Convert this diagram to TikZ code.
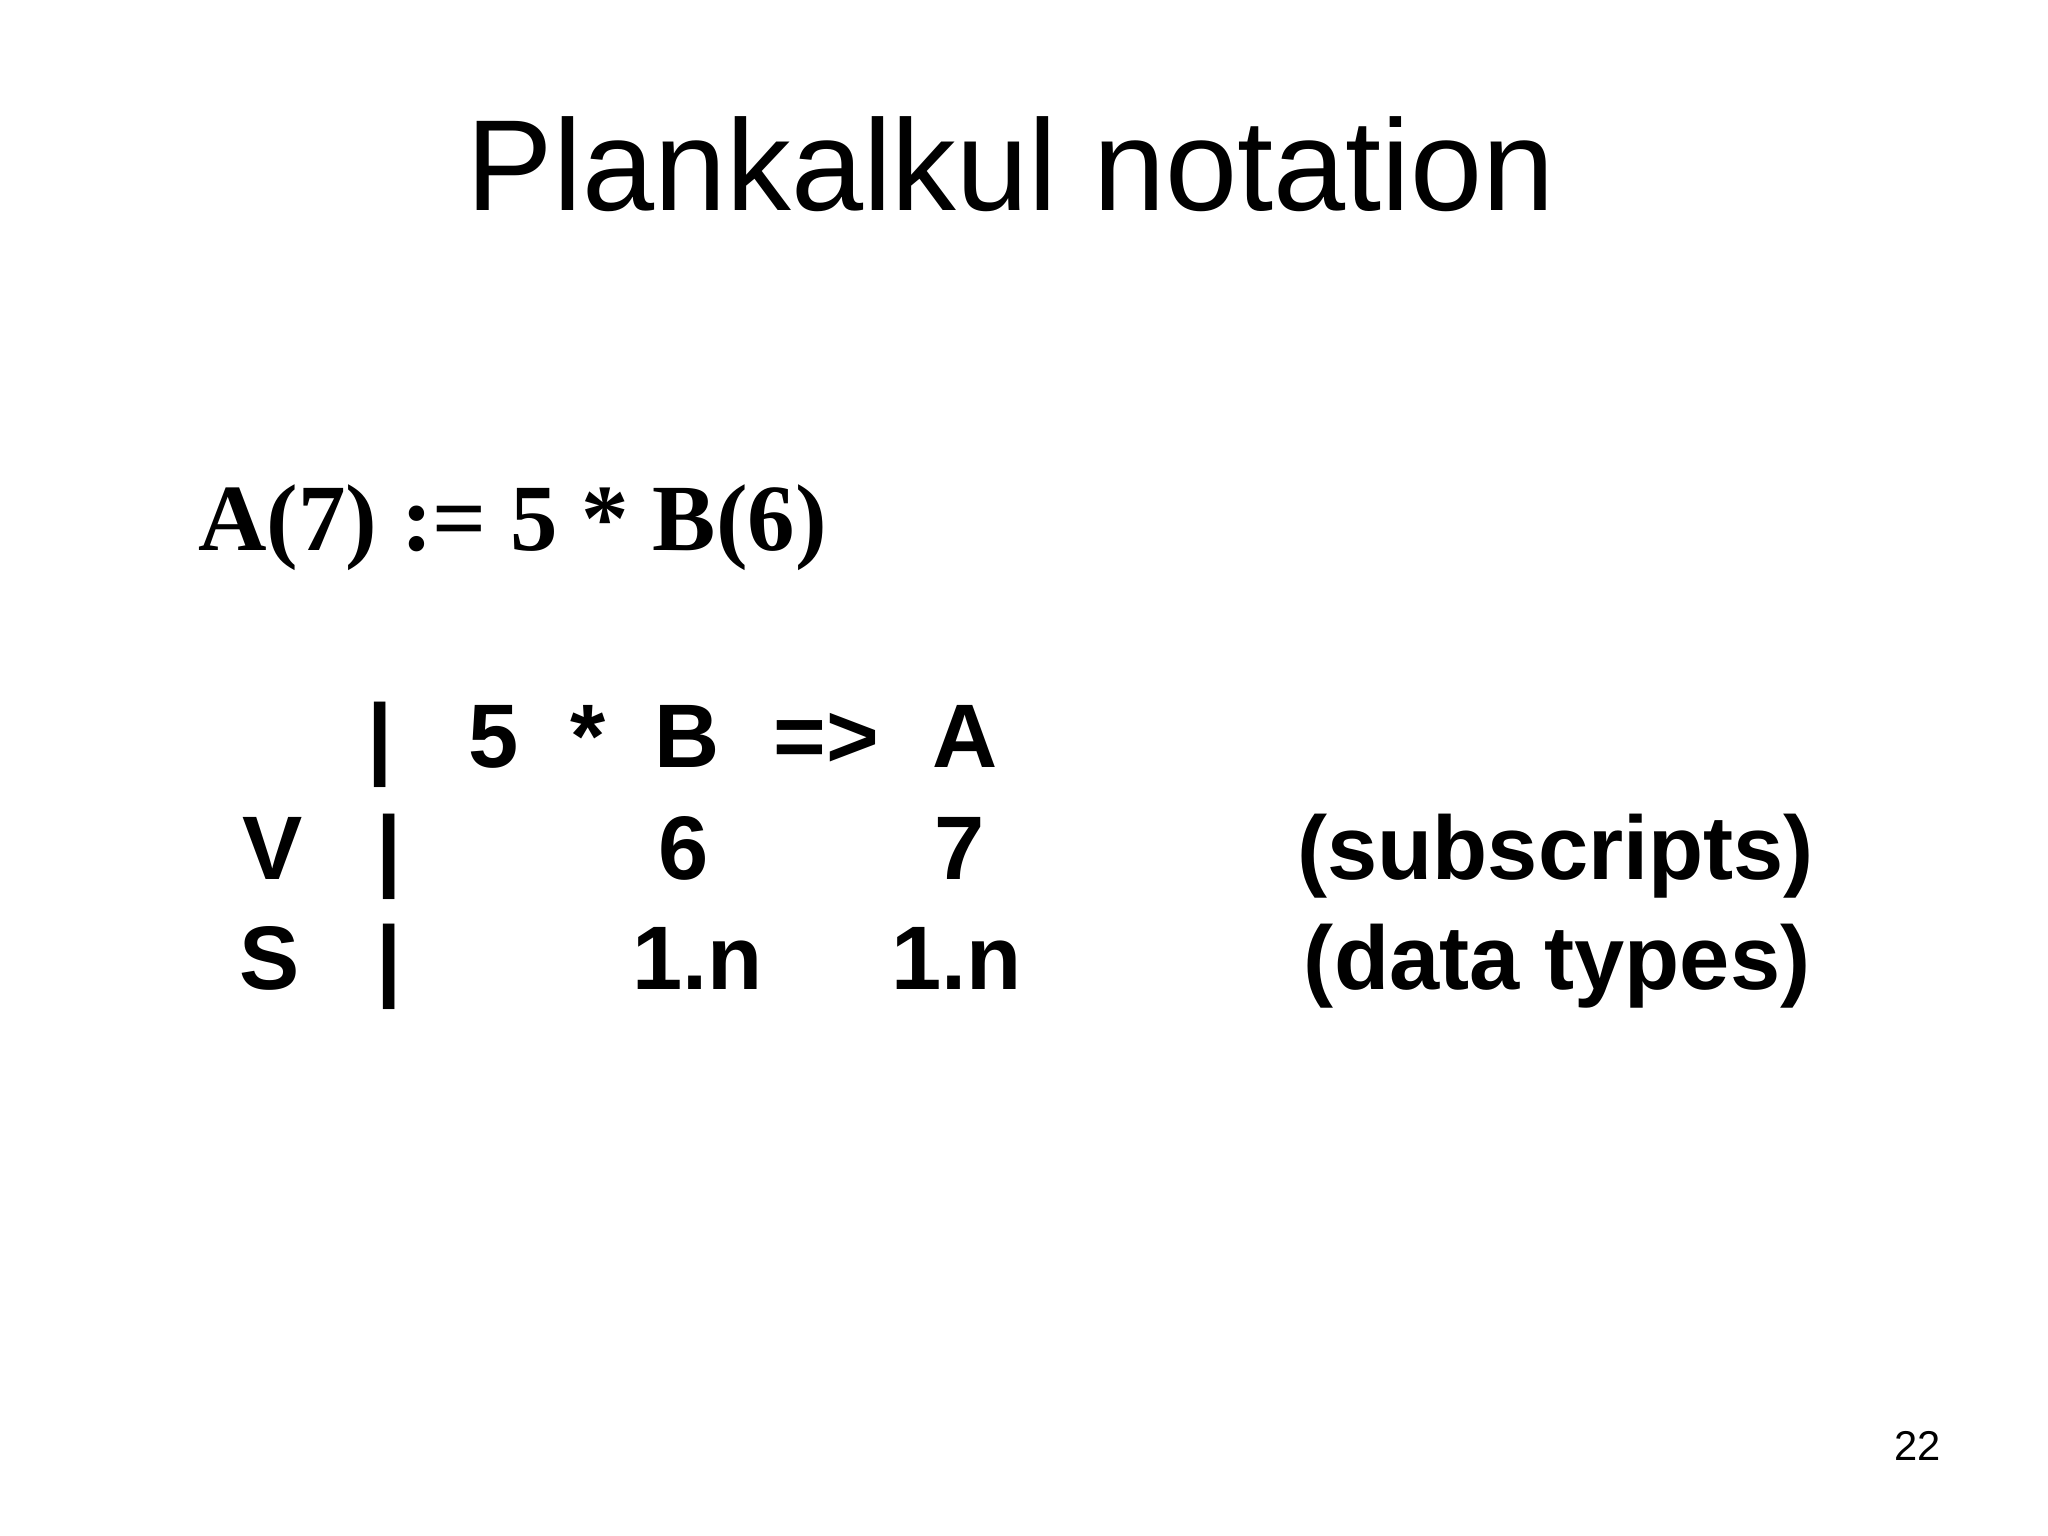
\documentclass[tikz,border=0pt]{standalone}
\usepackage{fontspec}
\setmainfont{Liberation Sans}
\newfontfamily\serifb{Liberation Serif}
\begin{document}
\begin{tikzpicture}[x=0.01cm,y=-0.01cm,
  t/.style={inner sep=0pt,anchor=base,font=\fontsize{19.5pt}{22pt}\selectfont\bfseries},
  tl/.style={t,anchor=base west}]
\useasboundingbox (0,0) rectangle (1556,1167);
\node[inner sep=0pt,anchor=base,font=\fontsize{28pt}{32pt}\selectfont] (title) at (768,160) {Plankalkul notation};
\node[inner sep=0pt,anchor=base west,font=\fontsize{20.5pt}{24pt}\selectfont\serifb\bfseries] (eq) at (150,418) {A(7) := 5 * B(6)};
\node[t] (b1) at (289,583) {|};
\node[t] (five) at (375,583) {5};
\node[t] (star) at (447,583) {*};
\node[t] (B) at (522,583) {B};
\node[t] (arr) at (628,583) {=>};
\node[t] (A) at (733,583) {A};
\node[t] (V) at (207,668) {V};
\node[t] (b2) at (296,668) {|};
\node[t] (six) at (519,668) {6};
\node[t] (seven) at (729,668) {7};
\node[tl] (subs) at (985,668) {(subscripts)};
\node[t] (S) at (205,752) {S};
\node[t] (b3) at (296,752) {|};
\node[t] (n1) at (530,752) {1.n};
\node[t] (n2) at (727,752) {1.n};
\node[tl] (dt) at (990,752) {(data types)};
\node[inner sep=0pt,anchor=base,font=\fontsize{9pt}{11pt}\selectfont] (pg) at (1457,1110) {22};
\end{tikzpicture}
\end{document}
